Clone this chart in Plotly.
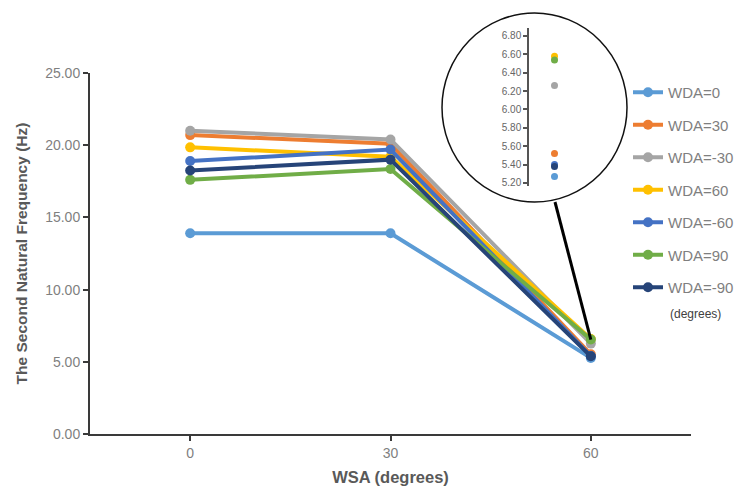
import plotly.graph_objects as go

wsa = [0, 30, 60]
series_names = ["WDA=0", "WDA=30", "WDA=-30", "WDA=60", "WDA=-60", "WDA=90", "WDA=-90"]
wda_0 = [13.9, 13.9, 5.27]
wda_30 = [20.7, 20.1, 5.52]
wda_m30 = [21.0, 20.4, 6.26]
wda_60 = [19.85, 19.2, 6.58]
wda_m60 = [18.9, 19.7, 5.40]
wda_90 = [17.6, 18.35, 6.54]
wda_m90 = [18.25, 19.0, 5.38]
series_values = [wda_0, wda_30, wda_m30, wda_60, wda_m60, wda_90, wda_m90]
colors = ["#5B9BD5", "#ED7D31", "#A5A5A5", "#FFC000", "#4472C4", "#70AD47", "#264478"]

y_ticks = [0, 5, 10, 15, 20, 25]
inset_ticks = [5.2, 5.4, 5.6, 5.8, 6.0, 6.2, 6.4, 6.6, 6.8]

# page offset (default body margin) compensation
OFF = 8
W, H = 742, 489
# target screen positions of the plot area
scr_left, scr_right, scr_top, scr_bottom = 90, 691, 73, 434
ml = scr_left - OFF
mr = W - (scr_right - OFF)
mt = 2
mb = H - (scr_bottom - OFF)
pw = W - ml - mr
ph = H - mt - mb

def px_x(p):
    return (p - OFF - ml) / pw

def px_y(p):
    return (H - mb - (p - OFF)) / ph

fig = go.Figure()

for name, vals, col in zip(series_names, series_values, colors):
    fig.add_trace(go.Scatter(
        x=wsa, y=vals, name=name, mode="lines+markers",
        line=dict(color=col, width=4),
        marker=dict(color=col, size=10),
        legendgroup=name,
    ))

# inset (magnified) points at WSA=60
for name, vals, col in zip(series_names, series_values, colors):
    fig.add_trace(go.Scatter(
        x=[1], y=[vals[2]], mode="markers", showlegend=False,
        marker=dict(color=col, size=7),
        xaxis="x2", yaxis="y2", hoverinfo="y",
    ))

gray_txt = "#7F7F7F"
title_txt = "#595959"
font_family = "Liberation Sans, Arial, sans-serif"

fig.update_layout(
    width=W, height=H,
    margin=dict(l=ml, r=mr, t=mt, b=mb, autoexpand=False),
    paper_bgcolor="white", plot_bgcolor="white",
    font=dict(family=font_family, color=gray_txt),
    xaxis=dict(
        range=[-15, 75], tickvals=wsa, ticktext=[str(v) for v in wsa],
        showgrid=False, zeroline=False, showline=True, linecolor="#3A3A3A", linewidth=2,
        ticks="outside", ticklen=5, tickcolor="#3A3A3A", tickwidth=2,
        tickfont=dict(size=14, color=gray_txt), automargin=False,
        title=dict(text="<b>WSA (degrees)</b>", font=dict(size=16.5, color=title_txt), standoff=12),
    ),
    yaxis=dict(
        range=[0, 25], domain=[0, px_y(scr_top)], tickvals=y_ticks,
        tickformat=".2f", showgrid=False, zeroline=False, showline=True,
        linecolor="#3A3A3A", linewidth=2,
        ticks="outside", ticklen=5, tickcolor="#3A3A3A", tickwidth=2,
        tickfont=dict(size=14, color=gray_txt), automargin=False,
        title=dict(text="<b>The Second Natural Frequency (Hz)</b>", font=dict(size=15.5, color=title_txt), standoff=14),
    ),
    xaxis2=dict(
        domain=[px_x(529), px_x(580)], range=[0, 2], anchor="y2",
        visible=False,
    ),
    yaxis2=dict(
        domain=[px_y(186), px_y(28)], range=[5.167, 6.887], anchor="x2",
        tickvals=inset_ticks, tickformat=".2f",
        showgrid=False, zeroline=False, showline=True, linecolor="#555555", linewidth=1.5,
        ticks="outside", ticklen=4, tickcolor="#555555", tickwidth=1.5,
        tickfont=dict(size=10, color="#666666"), automargin=False,
    ),
    legend=dict(
        x=px_x(628), y=px_y(76), xanchor="left", yanchor="top",
        font=dict(size=15, color=gray_txt), itemwidth=30,
        tracegroupgap=10, bgcolor="rgba(0,0,0,0)",
    ),
    showlegend=True,
)

# magnifier circle
fig.add_shape(type="circle", xref="paper", yref="paper",
              x0=px_x(442), x1=px_x(627), y0=px_y(202), y1=px_y(13),
              line=dict(color="#111111", width=1.5), fillcolor="rgba(0,0,0,0)", layer="below")

# connector line from circle to the WSA=60 cluster (data coordinates)
start_x = -15 + (555 - scr_left) / (scr_right - scr_left) * 90
start_y = (scr_bottom - 202) / (scr_bottom - scr_top) * 25
fig.add_shape(type="line", xref="x", yref="y",
              x0=start_x, y0=start_y, x1=wsa[2], y1=wda_90[2],
              line=dict(color="black", width=3))

fig.add_annotation(text="(degrees)", xref="paper", yref="paper",
                   x=px_x(668), y=px_y(314), xanchor="left", yanchor="middle",
                   showarrow=False, font=dict(size=12, color="#404040"))

fig.write_html("out.html")
